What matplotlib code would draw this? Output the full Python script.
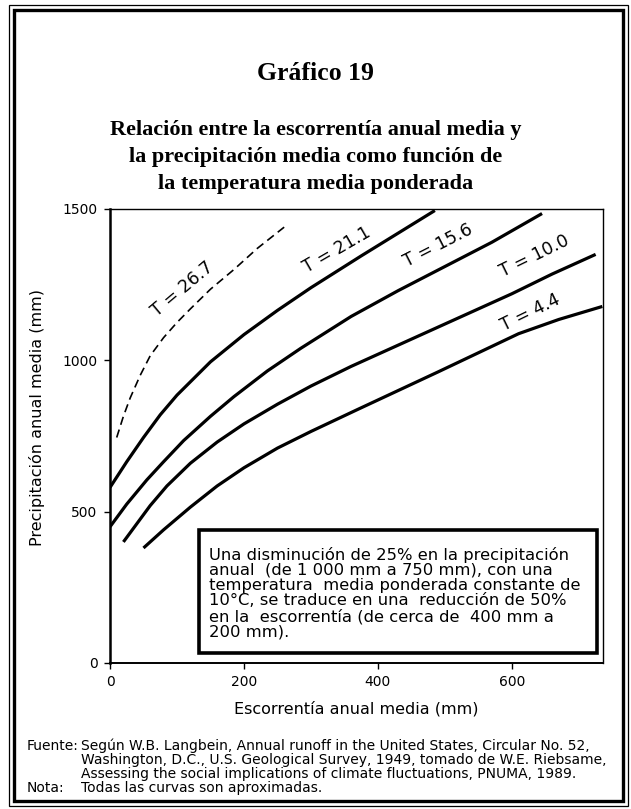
import matplotlib
matplotlib.use("Agg")
import matplotlib.pyplot as plt
from matplotlib.patches import Rectangle

# ---------------- data ----------------
x_t267 = [10, 20, 30, 45, 60, 80, 100, 120, 150, 185, 220, 260]
y_t267 = [745, 815, 875, 950, 1015, 1075, 1125, 1170, 1235, 1300, 1370, 1440]

x_t211 = [0, 25, 50, 75, 100, 150, 200, 250, 300, 375, 430, 485]
y_t211 = [580, 665, 745, 820, 885, 995, 1085, 1165, 1240, 1345, 1420, 1495]

x_t156 = [0, 25, 55, 80, 110, 150, 185, 235, 285, 360, 430, 500, 570, 645]
y_t156 = [450, 525, 605, 665, 735, 815, 880, 965, 1040, 1145, 1230, 1310, 1390, 1485]

x_t100 = [20, 40, 60, 85, 120, 160, 200, 250, 300, 360, 420, 480, 540, 600, 660, 725]
y_t100 = [400, 460, 520, 585, 660, 730, 790, 855, 915, 980, 1040, 1100, 1160, 1220, 1285, 1350]

x_t44 = [50, 80, 120, 160, 200, 250, 300, 370, 430, 490, 550, 610, 670, 735]
y_t44 = [380, 440, 515, 585, 645, 710, 765, 838, 900, 962, 1025, 1088, 1135, 1178]

curve_labels = ["T = 26.7", "T = 21.1", "T = 15.6", "T = 10.0", "T = 4.4"]
label_x = [108, 339, 490, 634, 627]
label_y = [1235, 1365, 1380, 1345, 1158]
label_rot = [40, 30, 27, 26, 26]

x_ticks = [0, 200, 400, 600]
y_ticks = [0, 500, 1000, 1500]

title_top = "Gráfico 19"
title_main = ("Relación entre la escorrentía anual media y\n"
              "la precipitación media como función de\n"
              "la temperatura media ponderada")
xlabel = "Escorrentía anual media (mm)"
ylabel = "Precipitación anual media (mm)"
box_text = ("Una disminución de 25% en la precipitación\n"
            "anual  (de 1 000 mm a 750 mm), con una\n"
            "temperatura  media ponderada constante de\n"
            "10°C, se traduce en una  reducción de 50%\n"
            "en la  escorrentía (de cerca de  400 mm a\n"
            "200 mm).")
src_label = "Fuente:"
src_lines = ["Según W.B. Langbein, Annual runoff in the United States, Circular No. 52,",
             "Washington, D.C., U.S. Geological Survey, 1949, tomado de W.E. Riebsame,",
             "Assessing the social implications of climate fluctuations, PNUMA, 1989."]
note_label = "Nota:"
note_line = "Todas las curvas son aproximadas."

# ---------------- figure ----------------
W, H = 631, 809
fig = plt.figure(figsize=(W / 100, H / 100), dpi=100)
sans = "DejaVu Sans"
serif = "Liberation Serif"

def fx(px):
    return px / W

def fy(py):
    return 1 - py / H

# double frame
fig.patches.append(Rectangle((fx(9), fy(806)), fx(628) - fx(9), fy(5) - fy(806),
                             transform=fig.transFigure, fill=False, lw=0.9, ec="black"))
fig.patches.append(Rectangle((fx(14), fy(801)), fx(623) - fx(14), fy(10) - fy(801),
                             transform=fig.transFigure, fill=False, lw=2.4, ec="black"))

# titles
fig.text(0.5, fy(73), title_top, ha="center", va="center", family=serif,
         weight="bold", fontsize=18.5)
fig.text(0.5, fy(157), title_main, ha="center", va="center", family=serif,
         weight="bold", fontsize=16, linespacing=1.45)

ax = fig.add_axes([fx(110), fy(663), fx(603) - fx(110), fy(209) - fy(663)])
ax.set_xlim(0, 736)
ax.set_ylim(0, 1500)

ax.plot(x_t267, y_t267, color="black", lw=1.2, ls=(0, (5, 3)))
for xs, ys in [(x_t211, y_t211), (x_t156, y_t156), (x_t100, y_t100), (x_t44, y_t44)]:
    ax.plot(xs, ys, color="black", lw=2.3, solid_capstyle="butt",
            solid_joinstyle="round")

for t, x, y, r in zip(curve_labels, label_x, label_y, label_rot):
    ax.text(x, y, t, ha="center", va="center", rotation=r, rotation_mode="anchor",
            family=sans, fontsize=12.5)

ax.set_xticks(x_ticks)
ax.set_yticks(y_ticks)
ax.tick_params(direction="out", length=4, width=1.0, labelsize=10, pad=5)
for lab in ax.get_xticklabels() + ax.get_yticklabels():
    lab.set_family(sans)
ax.spines["left"].set_linewidth(1.8)
ax.spines["bottom"].set_linewidth(1.4)
ax.spines["top"].set_linewidth(1.0)
ax.spines["right"].set_linewidth(1.0)

ax.set_xlabel(xlabel, family=sans, fontsize=11.5, labelpad=8)
ax.set_ylabel(ylabel, family=sans, fontsize=11.5)
ax.yaxis.set_label_coords(-0.132, 0.54)

# note box
bx0, bx1 = (199 - 110) / 493, (597 - 110) / 493
by0, by1 = (663 - 653) / 454, (663 - 530) / 454
ax.add_patch(Rectangle((bx0, by0), bx1 - bx0, by1 - by0, transform=ax.transAxes,
                       fill=True, fc="white", ec="black", lw=2.6, zorder=5))
ax.text(bx0 + 10 / 493, (663 - 593) / 454, box_text, transform=ax.transAxes,
        ha="left", va="center", family=sans, fontsize=11.8, linespacing=1.02, zorder=6)

# footer
fs = 10
fig.text(fx(27), fy(746), src_label, ha="left", va="center", family=sans, fontsize=fs)
for i, line in enumerate(src_lines):
    fig.text(fx(81), fy(746 + 13.8 * i), line, ha="left", va="center",
             family=sans, fontsize=fs)
fig.text(fx(27), fy(788), note_label, ha="left", va="center", family=sans, fontsize=fs)
fig.text(fx(81), fy(788), note_line, ha="left", va="center", family=sans, fontsize=fs)

fig.savefig("out.png", dpi=100)
